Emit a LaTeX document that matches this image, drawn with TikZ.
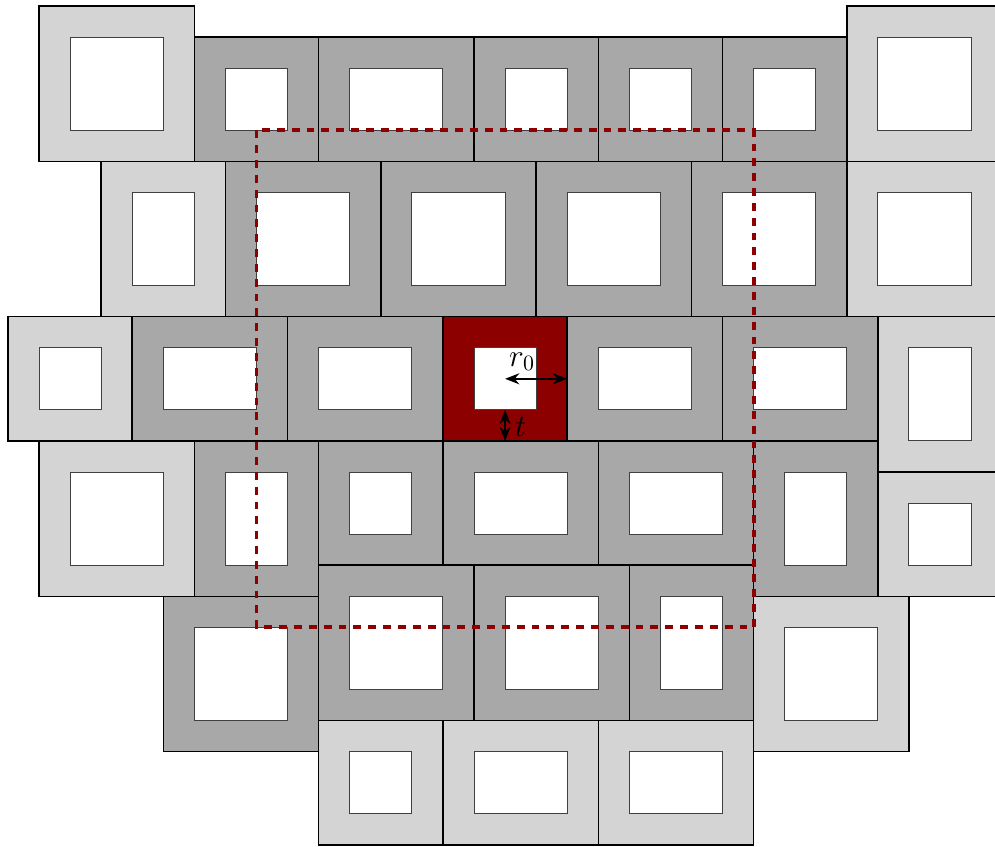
\documentclass[tikz,border=0pt]{standalone}
\usetikzlibrary{arrows.meta}
\tikzset{
  outerline/.style={draw=black, line width=0.7pt},
  innerline/.style={draw=black!75, line width=0.45pt},
  regionline/.style={draw=red!55!black, line width=1.8pt, dash pattern=on 3.6pt off 3.2pt},
  dimarrow/.style={{Stealth[length=6.5pt,width=5pt]}-{Stealth[length=6.5pt,width=5pt]}, line width=1.1pt},
}
\colorlet{lightcell}{black!17}
\colorlet{darkcell}{black!34}
\colorlet{redcell}{red!55!black}
% \cellbox{fill}{x1}{y1}{x2}{y2}{ix1}{iy1}{ix2}{iy2}
\newcommand{\cellbox}[9]{%
  \fill[#1] (#2,#3) rectangle (#4,#5);
  \fill[white] (#6,#7) rectangle (#8,#9);
  \draw[outerline] (#2,#3) rectangle (#4,#5);
  \draw[innerline] (#6,#7) rectangle (#8,#9);
}
\begin{document}
\begin{tikzpicture}[x=0.5cm, y=-0.5cm]
\useasboundingbox (-0.257,-0.193) rectangle (31.77,27.04);
\begin{scope}
\clip (-0.257,-0.193) rectangle (31.77,27.04);
% row 1
\cellbox{lightcell}{1}{0}{6}{5}{2}{1}{5}{4}
\cellbox{darkcell}{6}{1}{10}{5}{7}{2}{9}{4}
\cellbox{darkcell}{10}{1}{15}{5}{11}{2}{14}{4}
\cellbox{darkcell}{15}{1}{19}{5}{16}{2}{18}{4}
\cellbox{darkcell}{19}{1}{23}{5}{20}{2}{22}{4}
\cellbox{darkcell}{23}{1}{27}{5}{24}{2}{26}{4}
\cellbox{lightcell}{27}{0}{32}{5}{28}{1}{31}{4}
% row 2
\cellbox{lightcell}{3}{5}{7}{10}{4}{6}{6}{9}
\cellbox{darkcell}{7}{5}{12}{10}{8}{6}{11}{9}
\cellbox{darkcell}{12}{5}{17}{10}{13}{6}{16}{9}
\cellbox{darkcell}{17}{5}{22}{10}{18}{6}{21}{9}
\cellbox{darkcell}{22}{5}{27}{10}{23}{6}{26}{9}
\cellbox{lightcell}{27}{5}{32}{10}{28}{6}{31}{9}
% row 3
\cellbox{lightcell}{0}{10}{4}{14}{1}{11}{3}{13}
\cellbox{darkcell}{4}{10}{9}{14}{5}{11}{8}{13}
\cellbox{darkcell}{9}{10}{14}{14}{10}{11}{13}{13}
\cellbox{redcell}{14}{10}{18}{14}{15}{11}{17}{13}
\cellbox{darkcell}{18}{10}{23}{14}{19}{11}{22}{13}
\cellbox{darkcell}{23}{10}{28}{14}{24}{11}{27}{13}
\cellbox{lightcell}{28}{10}{32}{15}{29}{11}{31}{14}
% row 4
\cellbox{lightcell}{1}{14}{6}{19}{2}{15}{5}{18}
\cellbox{darkcell}{6}{14}{10}{19}{7}{15}{9}{18}
\cellbox{darkcell}{10}{14}{14}{18}{11}{15}{13}{17}
\cellbox{darkcell}{14}{14}{19}{18}{15}{15}{18}{17}
\cellbox{darkcell}{19}{14}{24}{18}{20}{15}{23}{17}
\cellbox{darkcell}{24}{14}{28}{19}{25}{15}{27}{18}
\cellbox{lightcell}{28}{15}{32}{19}{29}{16}{31}{18}
% row 5
\cellbox{darkcell}{5}{19}{10}{24}{6}{20}{9}{23}
\cellbox{darkcell}{10}{18}{15}{23}{11}{19}{14}{22}
\cellbox{darkcell}{15}{18}{20}{23}{16}{19}{19}{22}
\cellbox{darkcell}{20}{18}{24}{23}{21}{19}{23}{22}
\cellbox{lightcell}{24}{19}{29}{24}{25}{20}{28}{23}
% row 6
\cellbox{lightcell}{10}{23}{14}{27}{11}{24}{13}{26}
\cellbox{lightcell}{14}{23}{19}{27}{15}{24}{18}{26}
\cellbox{lightcell}{19}{23}{24}{27}{20}{24}{23}{26}
\end{scope}
% dashed region
\draw[regionline] (8,4) rectangle (24,20);
% dimensions
\coordinate (rc) at (16,12);
\coordinate (rr) at (18,12);
\coordinate (tt) at (16,13);
\coordinate (tb) at (16,14);
\draw[dimarrow] (rc) -- (rr);
\draw[dimarrow] (tt) -- (tb);
\node[anchor=center, inner sep=0pt] (r0label) at (16.55,11.45) {\Large $r_0$};
\node[anchor=center, inner sep=0pt] (tlabel) at (16.5,13.55) {\Large $t$};
\end{tikzpicture}
\end{document}
